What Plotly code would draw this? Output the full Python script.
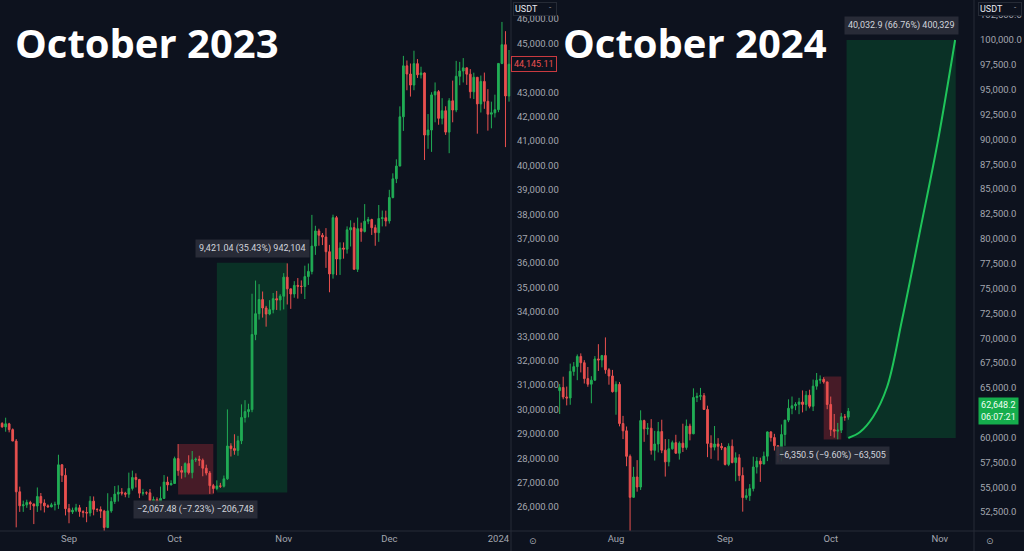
import plotly.graph_objects as go
import pandas as pd

# ---------------- data: BTC/USDT daily, Aug 13 2023 - Jan 4 2024 ----------------
start_2023 = "2023-08-13"
open_2023 = [29425,29283,29408,29170,28701,26623,26049,26089,26188,26124,26040,26431,26163,26048,26004,26089,26106,27728,27297,
             25931,25800,25868,25969,25812,25779,25753,26240,25905,25895,25832,25162,25840,26223,26528,26608,26568,26527,26762,27210,27124,26568,26580,26579,26256,26298,26217,26352,27021,26906,
             26962,27983,27494,27426,27778,27410,27932,27956,27917,27590,27391,26875,26756,26862,26852,27154,28500,28395,28320,28713,29669,29909,29992,33069,33923,34502,34156,33910,34089,34538,34484,
             34639,35421,34941,34730,35082,35049,35037,35443,35655,36693,37313,37138,37064,36462,35551,37858,36163,36613,36568,37359,37448,35741,37408,37294,37713,37780,37447,37243,37823,37854,
             37723,38682,39450,39972,41992,44080,43746,43293,44170,43713,43789,41244,41450,42890,43023,41929,42240,41364,42647,42270,43652,43869,43997,43739,43016,43613,42520,43442,42627,42099,42156,
             42283,44179,44946,42845]
high_2023 = [29475,29660,29450,29221,28783,26834,26260,26299,26255,26139,26800,26574,26314,26107,26171,26219,28142,27760,27588,
             26125,25976,26130,26087,25868,26000,26444,26432,25946,26024,25883,26565,26400,26858,26888,26774,26623,27409,27490,27379,27153,26743,26641,26738,26428,26397,26837,27308,27244,27094,
             28065,28580,27676,27830,28120,28295,28029,28100,27987,27735,27475,26947,27092,26989,27289,30000,28613,28982,28916,30207,30379,30232,34741,35280,35132,34832,34243,34477,34770,34856,34720,
             35585,35984,34946,35256,35383,35287,35891,35979,37972,37526,37404,37229,37430,36744,37980,37929,36845,36845,37500,37750,37649,37861,37653,38414,37888,37814,37569,38377,38150,38145,
             38999,39676,40250,42420,44488,44300,44176,44700,44358,44044,43808,42104,43000,43400,43089,42755,42424,42756,43476,44284,44242,44398,44015,43946,43800,43613,43683,43804,43124,42612,42899,
             44184,45879,45500,44729]
low_2023 = [29250,29085,29059,28701,25166,25800,25801,25965,25878,25300,25797,25862,25777,25983,25986,25860,25922,27025,25655,
            25333,25714,25790,25600,25570,25376,25615,25658,25800,25550,24901,25131,25764,26126,26224,26474,26400,26377,26676,26800,26365,26468,26501,26122,25990,26088,26112,26339,26665,26887,
            26954,27280,27160,27215,27333,27175,27842,27687,27260,27298,26538,26555,26686,26780,26800,27112,28069,28142,28100,28578,29464,29675,29884,32837,33679,33762,33390,33860,33937,34076,34055,
            34097,34300,34120,34577,34540,34740,34524,35100,35534,36333,36708,36734,35800,34800,35360,35500,35511,36178,36384,36677,35735,35632,36870,37251,37591,37150,36707,36868,37500,37500,
            37615,38650,39274,39972,41414,43080,42821,43081,43584,43563,40222,40680,40555,41767,41666,41682,41250,40500,41767,42180,43286,43400,43300,42749,42720,41300,42167,42318,41424,41520,41965,
            42180,44148,40750,42613]
close_2023 = [29283,29409,29170,28702,26623,26049,26089,26188,26124,26040,26431,26162,26047,26004,26089,26106,27728,27297,25931,
              25800,25868,25969,25812,25779,25753,26240,25905,25895,25832,25162,25840,26223,26528,26608,26568,26527,26762,27210,27124,26568,26580,26579,26256,26298,26217,26352,27021,26906,26962,
              27983,27494,27426,27778,27410,27932,27956,27917,27590,27391,26875,26756,26862,26852,27154,28500,28395,28320,28713,29669,29909,29992,33069,33923,34502,34156,33910,34089,34538,34484,34639,
              35421,34941,34730,35082,35049,35037,35443,35655,36693,37313,37138,37064,36462,35551,37858,36163,36613,36568,37359,37448,35741,37408,37294,37713,37780,37447,37243,37823,37854,37723,
              38682,39450,39972,41992,44080,43746,43293,44170,43713,43789,41244,41450,42890,43023,41929,42240,41364,42647,42270,43652,43869,43997,43739,43016,43613,42520,43442,42627,42099,42156,42283,
              44179,44946,42845,44145.11]

# ---------------- data: BTC/USDT daily, Jul 16 2024 - Oct 6 2024 ----------------
start_2024 = "2024-07-16"
open_2024 = [64724,65043,64087,63987,66660,67139,68165,67532,65936,65372,65777,67912,67813,68255,66819,66201,
             64619,65357,61415,60681,58116,53991,56034,55027,61710,60880,60945,58719,59354,60609,58737,57560,58874,59491,58427,59438,59013,61157,60381,64037,64157,64220,62834,59415,59034,59359,59123,
             58973,57301,59132,57487,57970,56180,53962,54160,54869,57042,57635,57339,58127,60571,60005,59182,58192,60309,61759,62947,63201,63348,63578,63339,64262,63152,65173,65769,65858,65602,
             63327,60805,60649,60752,62086,62058]
high_2024 = [65388,66128,65133,67442,67598,68366,68474,67792,67102,66175,68200,69399,68318,70079,66987,66810,
             65660,65596,62186,61117,58305,57059,57736,62745,61800,61464,61858,60680,61572,61800,59850,59847,59700,60284,59617,61400,61820,61400,64955,64513,65000,64481,63212,60234,61166,59944,59462,
             59054,59425,59809,58519,58327,57008,54850,55318,58088,58044,57981,58588,60625,60656,60381,59210,61320,61786,63850,64133,63559,64000,64745,64688,64817,65839,66498,66260,66076,65618,
             64130,62379,61477,62484,62370,62975]
low_2024 = [62373,63854,63238,63300,66222,65777,66559,65441,65111,63456,65722,66705,67066,66428,65323,64532,
            62302,61133,59850,57122,49000,53965,54558,54730,59575,60288,58287,57688,58506,58433,56078,57110,58785,58408,57787,58548,58783,59724,60342,63574,63773,62800,58034,57860,58713,57700,58744,
            57201,57128,57415,55606,55643,52550,53745,53629,54591,56386,55545,57324,57632,59600,58696,57493,57610,59174,61555,62350,62758,62357,62538,62700,62947,62670,64819,65422,65432,62856,
            60164,59996,59828,60459,61689,61798]
close_2024 = [65043,64087,63987,66660,67139,68165,67532,65936,65372,65777,67912,67813,68255,66819,66201,64619,
              65357,61415,60681,58116,53991,56034,55027,61710,60880,60945,58719,59354,60609,58737,57560,58874,59491,58427,59438,59013,61157,60381,64037,64157,64220,62834,59415,59034,59359,59123,58973,
              57301,59132,57487,57970,56180,53962,54160,54869,57042,57635,57339,58127,60571,60005,59182,58192,60309,61759,62947,63201,63348,63578,63339,64262,63152,65173,65769,65858,65602,63327,
              60805,60649,60752,62086,62058,62648.2]

# projection curve drawn on the 2024 chart
proj_dates = ["2024-10-06", "2024-10-09 08:00", "2024-10-13", "2024-10-17", "2024-10-21 06:00",
              "2024-10-26 10:00", "2024-10-31 12:00", "2024-11-05 08:00"]
proj_prices = [59960, 60563, 62072, 65091, 71831, 80885, 89940, 100000]

# measurement tools (date from/to, price from/to, label)
meas_2023_down = dict(d0="2023-10-02", d1="2023-10-12", p0=28580, p1=26512.52,
                      label="\u22122,067.48 (\u22127.23%) \u2212206,748")
meas_2023_up = dict(d0="2023-10-13", d1="2023-11-02", p0=26590.5, p1=36011.54,
                    label="9,421.04 (35.43%) 942,104")
meas_2024_down = dict(d0="2024-09-29", d1="2024-10-04", p0=66150, p1=59799.5,
                      label="\u22126,350.5 (\u22129.60%) \u221263,505")
meas_2024_up = dict(d0="2024-10-05 12:00", d1="2024-11-05 12:00", p0=59965, p1=99997.9,
                    label="40,032.9 (66.76%) 400,329")

titles = ["October 2023", "October 2024"]
left_ticks = [26000,27000,28000,29000,30000,31000,32000,33000,34000,35000,36000,37000,38000,39000,40000,41000,42000,43000,45000,46000]
right_ticks = [52500,55000,57500,60000,65000,67500,70000,72500,75000,77500,80000,82500,85000,87500,90000,92500,95000,97500,100000,102500]
left_month_ticks = ["2023-09-01", "2023-10-01", "2023-11-01", "2023-12-01", "2024-01-01"]
left_month_text = ["Sep", "Oct", "Nov", "Dec", "2024"]
right_month_ticks = ["2024-08-01", "2024-09-01", "2024-10-01", "2024-11-01"]
right_month_text = ["Aug", "Sep", "Oct", "Nov"]
last_2023 = 44145.11
last_2024 = 62648.2
countdown = "06:07:21"

# ---------------- style ----------------
BG = "#0d121e"
GREEN = "#21ad55"
RED = "#e9504f"
AX = "#a3a6af"
LINE = "#262b36"
W, H = 1024, 551
FONT = "Roboto"

dates_2023 = pd.date_range(start_2023, periods=len(open_2023), freq="D")
dates_2024 = pd.date_range(start_2024, periods=len(open_2024), freq="D")

fig = go.Figure()

def candles(x, o, h, l, c, xa, ya):
    return go.Candlestick(
        x=x, open=o, high=h, low=l, close=c, xaxis=xa, yaxis=ya,
        increasing=dict(line=dict(color=GREEN, width=1), fillcolor=GREEN),
        decreasing=dict(line=dict(color=RED, width=1), fillcolor=RED),
        whiskerwidth=0, showlegend=False, hoverinfo="skip")

fig.add_trace(candles(dates_2023, open_2023, high_2023, low_2023, close_2023, "x", "y"))
fig.add_trace(candles(dates_2024, open_2024, high_2024, low_2024, close_2024, "x2", "y2"))
fig.add_trace(go.Scatter(x=proj_dates, y=proj_prices, mode="lines", xaxis="x2", yaxis="y2",
                         line=dict(color="#1fc45a", width=2, shape="spline"),
                         showlegend=False, hoverinfo="skip"))

shapes = []
annos = []

def add_meas(m, xr, yr, up):
    fill = "rgba(0,160,70,0.22)" if up else "rgba(242,54,69,0.25)"
    shapes.append(dict(type="rect", xref=xr, yref=yr, x0=m["d0"], x1=m["d1"],
                       y0=m["p0"], y1=m["p1"], fillcolor=fill, line=dict(width=0), layer="below"))
    mid = pd.Timestamp(m["d0"]) + (pd.Timestamp(m["d1"]) - pd.Timestamp(m["d0"])) / 2
    yv = max(m["p0"], m["p1"]) if up else min(m["p0"], m["p1"])
    annos.append(dict(xref=xr, yref=yr, x=mid, y=yv, text=m["label"], showarrow=False,
                      xanchor="center", yanchor="bottom" if up else "top",
                      yshift=5 if up else -6, bgcolor="rgba(42,46,57,0.92)", borderpad=3,
                      font=dict(family=FONT, size=9, color="#d1d4dc")))

add_meas(meas_2023_down, "x", "y", False)
add_meas(meas_2023_up, "x", "y", True)
add_meas(meas_2024_down, "x2", "y2", False)
add_meas(meas_2024_up, "x2", "y2", True)

# separators
shapes.append(dict(type="line", xref="paper", yref="paper", x0=0, x1=1, y0=20 / H, y1=20 / H,
                   line=dict(color=LINE, width=1)))
shapes.append(dict(type="line", xref="paper", yref="paper", x0=511 / W, x1=511 / W, y0=0, y1=1,
                   line=dict(color=LINE, width=1)))
shapes.append(dict(type="line", xref="paper", yref="paper", x0=974 / W, x1=974 / W, y0=0, y1=1,
                   line=dict(color=LINE, width=1)))

# titles
annos.append(dict(xref="paper", yref="paper", x=13 / W, y=1 - 43 / H, text="<b>" + titles[0] + "</b>",
                  showarrow=False, xanchor="left", yanchor="middle",
                  font=dict(family="Open Sans", size=40, color="white")))
annos.append(dict(xref="paper", yref="paper", x=561 / W, y=1 - 43 / H, text="<b>" + titles[1] + "</b>",
                  showarrow=False, xanchor="left", yanchor="middle",
                  font=dict(family="Open Sans", size=40, color="white")))

# last price labels
annos.append(dict(xref="paper", yref="y", x=534 / W, y=last_2023, text=f"{last_2023:,.2f}",
                  showarrow=False, xanchor="center", yanchor="middle", bgcolor=BG,
                  bordercolor="#c93a40", borderwidth=1, borderpad=2,
                  font=dict(family=FONT, size=9, color="#ea4f50")))
annos.append(dict(xref="paper", yref="y2", x=998 / W, y=last_2024,
                  text=f"{last_2024:,.1f}<br>{countdown}",
                  showarrow=False, xanchor="center", yanchor="middle", bgcolor="#15ad4c",
                  borderpad=2, font=dict(family=FONT, size=9, color="#f0fff4")))

# currency boxes
for cx in (535, 1000):
    annos.append(dict(xref="paper", yref="paper", x=cx / W, y=1 - 2 / H, text="USDT       ",
                      showarrow=False, xanchor="center", yanchor="top", bgcolor=BG,
                      bordercolor=LINE, borderwidth=1, borderpad=1, width=40, align="left",
                      font=dict(family=FONT, size=9, color="#e8e9ee")))
    annos.append(dict(xref="paper", yref="paper", x=(cx + 15) / W, y=1 - 8 / H, text="-",
                      showarrow=False, xanchor="center", yanchor="middle",
                      font=dict(family=FONT, size=8, color=AX)))

# bottom icons
for cx in (533, 990):
    annos.append(dict(xref="paper", yref="paper", x=cx / W, y=10 / H, text="\u2299",
                      showarrow=False, xanchor="center", yanchor="middle",
                      font=dict(family="DejaVu Sans", size=9, color=AX)))

axis_font = dict(family=FONT, size=9.5, color=AX)
xcommon = dict(type="date", rangeslider=dict(visible=False), showgrid=False, zeroline=False,
               showline=False, ticks="", tickfont=axis_font, fixedrange=True)
ycommon = dict(side="right", showgrid=False, zeroline=False, showline=False, ticks="",
               tickfont=axis_font, ticklabelstandoff=5, domain=[20 / H, 1], fixedrange=True)

fig.update_layout(
    width=W, height=H, margin=dict(l=0, r=0, t=0, b=0),
    paper_bgcolor=BG, plot_bgcolor=BG, showlegend=False, hovermode=False,
    xaxis=dict(xcommon, domain=[0, 511 / W], anchor="y",
               range=["2023-08-12 09:30", "2024-01-04 13:40"],
               tickvals=left_month_ticks, ticktext=left_month_text),
    yaxis=dict(ycommon, anchor="x", range=[25016.4, 46778.7],
               tickvals=left_ticks, tickformat=",.2f"),
    xaxis2=dict(xcommon, domain=[556 / W, 974 / W], anchor="y2",
                range=["2024-07-14 23:00", "2024-11-10 16:50"],
                tickvals=right_month_ticks, ticktext=right_month_text),
    yaxis2=dict(ycommon, anchor="x2", range=[50604, 104024],
                tickvals=right_ticks, tickformat=",.1f"),
    shapes=shapes, annotations=annos,
)

fig.write_html("out.html", config={"displayModeBar": False, "staticPlot": True},
               post_script="document.body.style.margin='0px';document.body.style.overflow='hidden';document.body.style.background='" + BG + "';")
